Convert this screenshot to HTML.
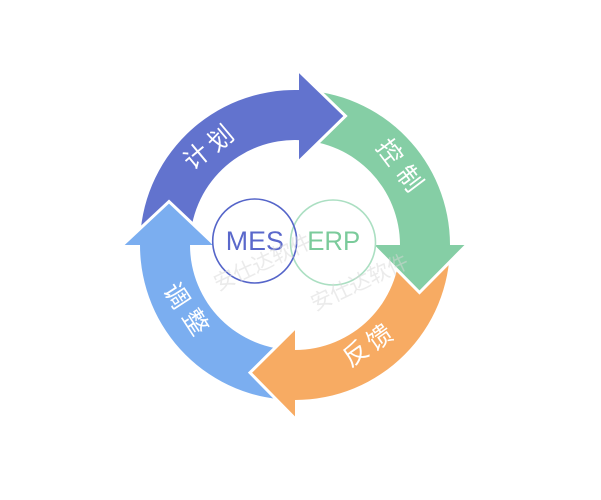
<!DOCTYPE html>
<html>
<head>
<meta charset="utf-8">
<style>
  html, body { margin: 0; padding: 0; background: #ffffff; }
  svg { display: block; }
  .lbl { font-family: "Liberation Sans", "Noto Sans CJK SC", sans-serif; font-size: 25px; fill: #ffffff; }
  .wm { font-family: "Liberation Sans", "Noto Sans CJK SC", sans-serif; font-size: 21px; fill: #d8d8d8; fill-opacity: 0.5; }
</style>
</head>
<body>
<svg width="601" height="500" viewBox="0 0 601 500" xmlns="http://www.w3.org/2000/svg">
  <rect x="0" y="0" width="601" height="500" fill="#ffffff"/>

  <!-- arrow bodies -->
  <path d="M140,245 A155,155 0 0 1 299,90.05 L299,140.08 A105,105 0 0 0 190,245 Z" fill="#6273ce"/>
  <path d="M299,90.05 A155,155 0 0 1 450,245 L400,245 A105,105 0 0 0 299,140.08 Z" fill="#85cea5"/>
  <path d="M450,245 A155,155 0 0 1 295,400 L295,350 A105,105 0 0 0 400,245 Z" fill="#f7ab63"/>
  <path d="M295,400 A155,155 0 0 1 140,245 L190,245 A105,105 0 0 0 295,350 Z" fill="#7baef0"/>

  <!-- arrow heads -->
  <path d="M299,71 L345.5,116 L299,161.5" fill="#6273ce" stroke="#ffffff" stroke-width="3" stroke-linejoin="miter"/>
  <path d="M466.5,245 L419.5,292.5 L372.5,245" fill="#85cea5" stroke="#ffffff" stroke-width="3" stroke-linejoin="miter"/>
  <path d="M295,418.5 L250,372.7 L295,328" fill="#f7ab63" stroke="#ffffff" stroke-width="3" stroke-linejoin="miter"/>
  <path d="M122.5,245 L169,201.5 L215,245" fill="#7baef0" stroke="#ffffff" stroke-width="3" stroke-linejoin="miter"/>

  <!-- labels -->
  <text class="lbl" x="197" y="157" text-anchor="middle" dominant-baseline="central" transform="rotate(-40 197 157)">计</text>
  <text class="lbl" x="221" y="139" text-anchor="middle" dominant-baseline="central" transform="rotate(-40 221 139)">划</text>

  <text class="lbl" x="389" y="152.5" text-anchor="middle" dominant-baseline="central" transform="rotate(53 389 152.5)">控</text>
  <text class="lbl" x="409" y="179" text-anchor="middle" dominant-baseline="central" transform="rotate(53 409 179)">制</text>

  <text class="lbl" x="356" y="354" text-anchor="middle" dominant-baseline="central" transform="rotate(-35 356 354)">反</text>
  <text class="lbl" x="380" y="338" text-anchor="middle" dominant-baseline="central" transform="rotate(-35 380 338)">馈</text>

  <text class="lbl" x="176" y="296" text-anchor="middle" dominant-baseline="central" transform="rotate(57 176 296)">调</text>
  <text class="lbl" x="195" y="322.5" text-anchor="middle" dominant-baseline="central" transform="rotate(57 195 322.5)">整</text>

  <!-- center circles -->
  <circle cx="333" cy="242.5" r="42.5" fill="none" stroke="#abdfc2" stroke-width="1.6"/>
  <circle cx="254.7" cy="241" r="42" fill="none" stroke="#5565c9" stroke-width="1.6"/>

  <text x="254.8" y="250" text-anchor="middle" font-family="Liberation Sans, sans-serif" font-size="27" fill="#5a68cb" textLength="58" lengthAdjust="spacingAndGlyphs">MES</text>
  <text x="333.7" y="250" text-anchor="middle" font-family="Liberation Sans, sans-serif" font-size="27" fill="#7bcb9b" textLength="53" lengthAdjust="spacingAndGlyphs">ERP</text>

  <!-- watermarks (on top, semi-transparent) -->
  <text class="wm" x="263" y="263" text-anchor="middle" dominant-baseline="central" transform="rotate(-25 263 263)">安仕达软件</text>
  <text class="wm" x="360" y="283" text-anchor="middle" dominant-baseline="central" transform="rotate(-25 360 283)">安仕达软件</text>
</svg>
</body>
</html>
